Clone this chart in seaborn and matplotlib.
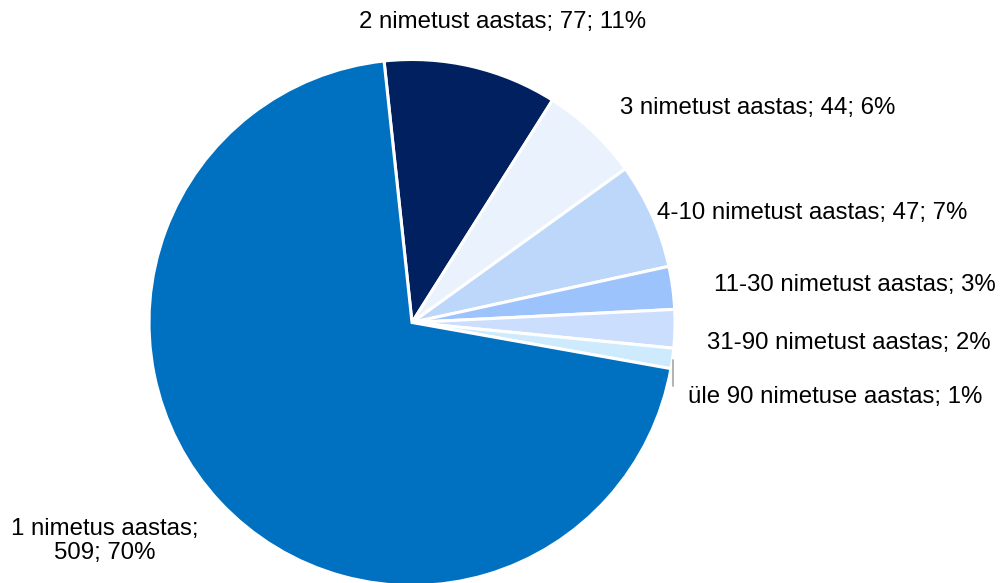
import matplotlib
matplotlib.use("Agg")
import matplotlib.pyplot as plt
import seaborn as sns
import numpy as np

categories = ["2 nimetust aastas", "3 nimetust aastas", "4-10 nimetust aastas",
              "11-30 nimetust aastas", "31-90 nimetust aastas",
              "üle 90 nimetuse aastas", "1 nimetus aastas"]
values = [77, 44, 47, 19, 17, 9, 509]
labels = ["2 nimetust aastas; 77; 11%", "3 nimetust aastas; 44; 6%",
          "4-10 nimetust aastas; 47; 7%", "11-30 nimetust aastas; 3%",
          "31-90 nimetust aastas; 2%", "üle 90 nimetuse aastas; 1%",
          "1 nimetus aastas;\n509; 70%"]
colors = ["#002060", "#EAF2FD", "#BDD7FB", "#9DC3FD", "#CCDEFD", "#CDEBFD", "#0070C0"]

sns.set_theme(style="white")
plt.rcParams['font.family'] = ['Liberation Sans', 'DejaVu Sans']

W, H, DPI = 1005, 583, 100
fig = plt.figure(figsize=(W / DPI, H / DPI), dpi=DPI)
ax = fig.add_axes([0, 0, 1, 1])
cx, cy, R = 412, 322.5, 263

palette = sns.color_palette(colors)
ax.pie(values, colors=palette, startangle=96.1, counterclock=False,
       radius=1.0, center=(0, 0), frame=True,
       wedgeprops=dict(edgecolor="white", linewidth=2.2))
ax.set_xlim(-cx / R, (W - cx) / R)
ax.set_ylim((cy - H) / R, cy / R)
ax.set_axis_off()

# label layout (pixel positions, anchor)
label_pos = [(503, 22, "center"), (620, 108, "left"), (657, 213, "left"),
             (714, 285, "left"), (707, 343, "left"), (688, 397, "left"),
             (105, 541, "center")]
fs = 17.3
for lab, (px, py, ha) in zip(labels, label_pos):
    ax.text((px - cx) / R, (cy - py) / R, lab, ha=ha, va="center",
            fontsize=fs, color="black", linespacing=1.15,
            multialignment="center")

# leader line for smallest slice
ax.plot([(673 - cx) / R, (673 - cx) / R], [(cy - 360) / R, (cy - 386) / R],
        color="#A6A6A6", linewidth=1.2)

fig.savefig("out.png", dpi=DPI)
